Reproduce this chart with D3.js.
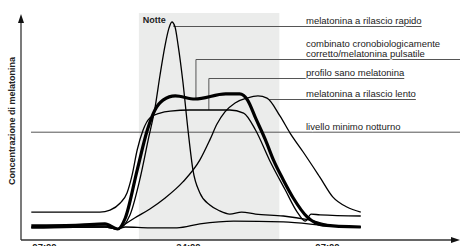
<!DOCTYPE html>
<html>
<head>
<meta charset="utf-8">
<script src="https://cdn.jsdelivr.net/npm/d3@7"></script>
<style>
  body { margin: 0; background: #fff; }
  svg { display: block; font-family: 'Liberation Sans Narrow', 'Liberation Sans', sans-serif; }
</style>
</head>
<body>
<script>
'use strict'

// time in hours (31 = 07:00 next morning), concentration in arbitrary units
const tickHours = [7, 24, 31]
const tickLabels = ['07:00', '24:00', '07:00']
const night = [18.2, 28.6]
const minLevel = 49

const rapid = [[5.5, 5.5], [14.2, 5.9], [15.7, 5.0], [17.15, 11.4], [18.3, 27.3], [19.3, 45.5],
  [20.1, 60], [20.7, 75], [21.3, 88.6], [21.76, 96.4], [22.1, 99.1], [22.47, 96.8], [22.83, 88.6],
  [23.4, 71.8], [24, 50], [24.25, 31.8], [24.6, 21.4], [25.1, 15.9], [25.6, 13.2], [26.1, 11.8],
  [26.7, 12.7], [27.4, 11.8], [28.8, 10.9], [30.1, 9.1], [31.4, 6.4], [32.7, 5.9]]

const combined = [[5.5, 6.4], [11.25, 6.8], [14.2, 7.3], [15.7, 5.0], [16.6, 10], [18.0, 31.8],
  [19.2, 50], [20.1, 59.1], [21.05, 63.6], [22.5, 65.5], [24.35, 64.1], [25.9, 66.4], [26.6, 66.4],
  [27.0, 63.6], [27.4, 55.5], [27.9, 45.5], [28.3, 36.4], [28.8, 27.3], [29.3, 19.1], [30.0, 10.5],
  [30.8, 6.8], [32.7, 5.9]]

const healthy = [[5.5, 12.7], [13.6, 12.7], [14.8, 13.6], [16.0, 16.8], [16.8, 21.4], [17.4, 29.5],
  [18.0, 40.9], [18.7, 50], [19.5, 55.5], [20.7, 57.7], [21.9, 58.6], [24.1, 59.1], [26.1, 59.1],
  [26.8, 57.7], [27.4, 50], [28.1, 36.4], [28.9, 22.7], [29.5, 12.7], [29.9, 8.6], [30.2, 11.8],
  [30.65, 11.4], [32.7, 10.9]]

const slow = [[5.5, 5.9], [14.2, 6.4], [15.7, 5.0], [16.6, 7.3], [17.7, 10], [19.5, 14.1],
  [21.3, 19.1], [23.4, 26.4], [24.6, 36.4], [25.1, 45.5], [25.46, 52.7], [25.86, 58.2],
  [26.37, 62.3], [26.97, 64.5], [27.52, 65.5], [27.98, 64.5], [28.63, 56.4], [29.14, 48.6],
  [29.8, 40], [30.64, 28.6], [31.3, 19.5], [32.0, 15], [32.7, 12.7]]

const lowNight = [[5.5, 5.5], [14.2, 5.9], [15.7, 5.0], [16.6, 5.9], [19.5, 5.5], [22.7, 5.5],
  [24.6, 7.3], [26.3, 8.6], [28.8, 8.2], [31.3, 6.4], [32.7, 5.9]]

const labelTexts = [
  ['melatonina a rilascio rapido'],
  ['combinato cronobiologicamente', 'corretto/melatonina pulsatile'],
  ['profilo sano melatonina'],
  ['melatonina a rilascio lento'],
  ['livello minimo notturno']
]
// where each leader line leaves its curve: [hour, value at curve, value of the leader]
const leaderFrom = [[22.3, 97.5, 97.5], [24.4, 64.5, 82.3], [25.05, 59.1, 73.6], [28.1, 64, 64], null]
const leaderLevel = [97.5, 82.3, 73.6, 64, minLevel]

const width = 460
const height = 246

const x = d3.scaleLinear().domain([7, 24, 31]).range([44, 188, 327])
const y = d3.scaleLinear().domain([0, 100]).range([240, 20])

const svg = d3.select('body').append('svg')
  .attr('width', width)
  .attr('height', height)

// night band
svg.append('rect')
  .attr('x', x(night[0]))
  .attr('y', y(103.2))
  .attr('width', x(night[1]) - x(night[0]))
  .attr('height', y(0) - y(103.2))
  .attr('fill', '#ebeceb')

svg.append('text')
  .attr('x', x(night[0]) + 4)
  .attr('y', y(98.5))
  .attr('font-size', 9)
  .attr('font-weight', 'bold')
  .attr('fill', '#222')
  .text('Notte')

// minimum level line
svg.append('line')
  .attr('x1', 31).attr('x2', width)
  .attr('y1', y(minLevel)).attr('y2', y(minLevel))
  .attr('stroke', '#555')
  .attr('stroke-width', 1)

// leader lines + labels
const labelX = 306
labelTexts.forEach(function (lines, i) {
  const ly = Math.round(y(leaderLevel[i])) + 0.5
  const t = svg.append('text')
    .attr('x', labelX)
    .attr('y', ly - 3 - (lines.length - 1) * 10)
    .attr('font-size', 9.5)
    .attr('fill', '#222')
  lines.forEach(function (s, j) {
    t.append('tspan').attr('x', labelX).attr('dy', j ? 10 : 0).text(s)
  })
  const end = labelX + t.node().getComputedTextLength()
  const f = leaderFrom[i]
  if (f) {
    const lx = x(f[0])
    svg.insert('path', 'text')
      .attr('d', 'M' + lx + ',' + y(f[1]) + 'V' + ly + 'H' + end)
      .attr('fill', 'none')
      .attr('stroke', '#555')
      .attr('stroke-width', 1)
  }
  t.attr('stroke', '#fff').attr('stroke-width', 1.6).attr('paint-order', 'stroke')
})

// curves
const line = d3.line()
  .x(function (d) { return x(d[0]) })
  .y(function (d) { return y(d[1]) })
  .curve(d3.curveMonotoneX)

const series = [
  { data: lowNight, w: 1.3 },
  { data: slow, w: 1.3 },
  { data: healthy, w: 1.3 },
  { data: rapid, w: 1.3 },
  { data: combined, w: 3.2 }
]

svg.append('g').selectAll('path')
  .data(series)
  .enter()
  .append('path')
  .attr('d', function (d) { return line(d.data) })
  .attr('fill', 'none')
  .attr('stroke', '#000')
  .attr('stroke-width', function (d) { return d.w })
  .attr('stroke-linejoin', 'round')

// axes
const axisColor = '#333'
svg.append('line')
  .attr('x1', 21).attr('x2', 21)
  .attr('y1', y(0)).attr('y2', 20)
  .attr('stroke', axisColor).attr('stroke-width', 1.3)
svg.append('path')
  .attr('d', 'M21,14L18,23L24,23Z')
  .attr('fill', '#111')
svg.append('line')
  .attr('x1', 21).attr('x2', 452)
  .attr('y1', y(0)).attr('y2', y(0))
  .attr('stroke', axisColor).attr('stroke-width', 1.3)
svg.append('path')
  .attr('d', 'M460,' + y(0) + 'L451,' + (y(0) - 3) + 'L451,' + (y(0) + 3) + 'Z')
  .attr('fill', '#111')

const xAxis = svg.append('g')
  .attr('transform', 'translate(0,' + y(0) + ')')
  .call(d3.axisBottom(x)
    .tickValues(tickHours)
    .tickFormat(function (d, i) { return tickLabels[i] })
    .tickSize(0)
    .tickPadding(3))
xAxis.select('.domain').remove()
xAxis.selectAll('text')
  .attr('font-family', "'Liberation Sans Narrow', 'Liberation Sans', sans-serif")
  .attr('font-size', 9.5)
  .attr('font-weight', 'bold')
  .attr('fill', '#222')

svg.append('text')
  .attr('transform', 'translate(15,121) rotate(-90)')
  .attr('text-anchor', 'middle')
  .attr('font-size', 9)
  .attr('font-weight', 'bold')
  .attr('fill', '#222')
  .text('Concentrazione di melatonina')
</script>
</body>
</html>
